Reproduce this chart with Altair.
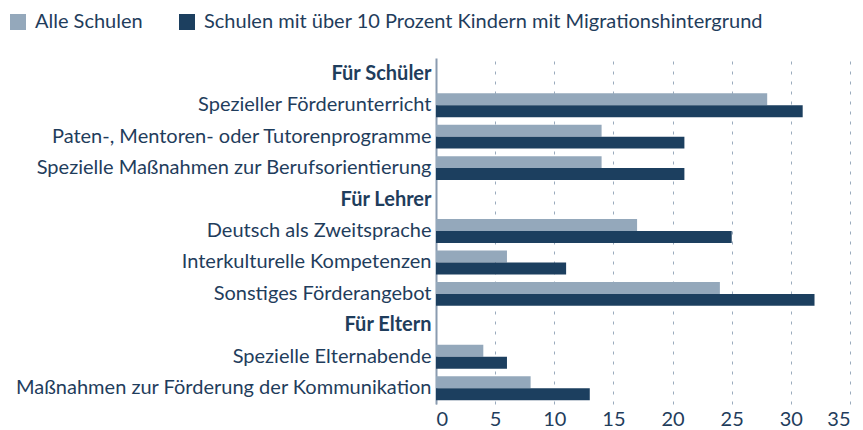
import altair as alt
import pandas as pd

categories = [
    "Für Schüler",
    "Spezieller Förderunterricht",
    "Paten-, Mentoren- oder Tutorenprogramme",
    "Spezielle Maßnahmen zur Berufsorientierung",
    "Für Lehrer",
    "Deutsch als Zweitsprache",
    "Interkulturelle Kompetenzen",
    "Sonstiges Förderangebot",
    "Für Eltern",
    "Spezielle Elternabende",
    "Maßnahmen zur Förderung der Kommunikation",
]
headers = ["Für Schüler", "Für Lehrer", "Für Eltern"]
items = [c for c in categories if c not in headers]
alle = [28, 14, 14, 17, 6, 24, 4, 8]
migration = [31, 21, 21, 25, 11, 32, 6, 13]
series = ["Alle Schulen", "Schulen mit über 10 Prozent Kindern mit Migrationshintergrund"]
colors = ["#94a8bb", "#1c3f5f"]

rows = []
for c, a, m in zip(items, alle, migration):
    rows.append({"Kategorie": c, "Serie": series[0], "Wert": a})
    rows.append({"Kategorie": c, "Serie": series[1], "Wert": m})
df = pd.DataFrame(rows)

FONT = "Lato"
TXT = "#1f3d5c"
FS = 20

chart = alt.Chart(df).mark_bar().encode(
    y=alt.Y("Kategorie:N", sort=categories,
            scale=alt.Scale(domain=categories, paddingInner=0.24, paddingOuter=0.12),
            axis=alt.Axis(title=None, ticks=False, domainColor="#8a9bb0", domainWidth=2,
                          labelFontSize=FS, labelColor=TXT, labelPadding=5, labelLimit=600,
                          labelFontWeight=alt.expr("indexof(['Für Schüler','Für Lehrer','Für Eltern'], datum.value) >= 0 ? 'bold' : 'normal'"))),
    yOffset=alt.YOffset("Serie:N", sort=series),
    x=alt.X("Wert:Q", scale=alt.Scale(domain=[0, 35]),
            axis=alt.Axis(title=None, values=[0, 5, 10, 15, 20, 25, 30, 35], domain=False, ticks=False,
                          grid=True, gridColor="#9aabbd", gridDash=[3, 7], gridWidth=1,
                          labelFontSize=FS, labelColor=TXT, labelPadding=5)),
    color=alt.Color("Serie:N", sort=series, scale=alt.Scale(domain=series, range=colors),
                    legend=alt.Legend(title=None, orient="none", legendX=-428, legendY=-46,
                                      direction="horizontal", labelLimit=800,
                                      symbolType="square", symbolSize=256, symbolStrokeWidth=0,
                                      labelFontSize=FS, labelColor=TXT, columnPadding=34,
                                      labelOffset=7, labelFont=FONT)),
).properties(width=414, height=346, padding={"left": 0, "top": 4, "right": 5, "bottom": 0}
).configure(font=FONT).configure_view(stroke=None)

chart.save("out.html", embed_options={"renderer": "svg", "actions": False})
